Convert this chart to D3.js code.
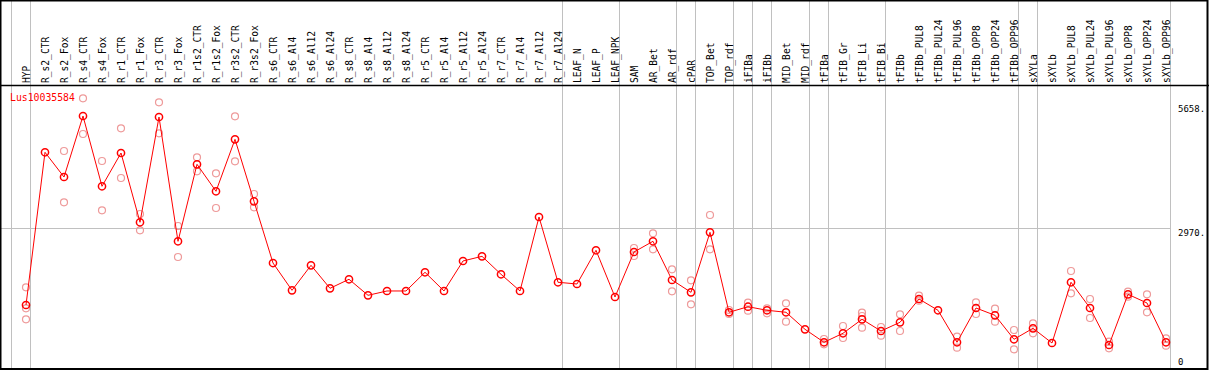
<!DOCTYPE html>
<html lang="en">
  <head>
    <meta charset="UTF-8">
    <title>Lus10035584</title>
    <script type="text/javascript" src="https://cdn.jsdelivr.net/npm/d3@7"></script>
    <style>
      body { margin: 0; background: #fff; }
      svg { display: block; }
    </style>
  </head>
  <body>
    <script type="text/javascript">
      let w = 1209;
      let h = 370;

      let geneName = 'Lus10035584';

      let samples = [
        'HYP', 'R_s2_CTR', 'R_s2_Fox', 'R_s4_CTR', 'R_s4_Fox', 'R_r1_CTR', 'R_r1_Fox',
        'R_r3_CTR', 'R_r3_Fox', 'R_r1s2_CTR', 'R_r1s2_Fox', 'R_r3s2_CTR', 'R_r3s2_Fox',
        'R_s6_CTR', 'R_s6_Al4', 'R_s6_Al12', 'R_s6_Al24', 'R_s8_CTR', 'R_s8_Al4',
        'R_s8_Al12', 'R_s8_Al24', 'R_r5_CTR', 'R_r5_Al4', 'R_r5_Al12', 'R_r5_Al24',
        'R_r7_CTR', 'R_r7_Al4', 'R_r7_Al12', 'R_r7_Al24', 'LEAF_N', 'LEAF_P', 'LEAF_NPK',
        'SAM', 'AR_Bet', 'AR_rdf', 'cPAR', 'TOP_Bet', 'TOP_rdf', 'iFIBa', 'iFIBb',
        'MID_Bet', 'MID_rdf', 'tFIBa', 'tFIB_Gr', 'tFIB_Li', 'tFIB_Bi', 'tFIBb',
        'tFIBb_PUL8', 'tFIBb_PUL24', 'tFIBb_PUL96', 'tFIBb_OPP8', 'tFIBb_OPP24', 'tFIBb_OPP96',
        'sXYLa', 'sXYLb', 'sXYLb_PUL8', 'sXYLb_PUL24', 'sXYLb_PUL96', 'sXYLb_OPP8',
        'sXYLb_OPP24', 'sXYLb_OPP96'
      ];

      // mean expression per sample
      let means = [
        1346, 4558, 4038, 5321, 3843, 4543, 3086, 5300, 2686, 4305, 3738, 4831, 3527,
        2229, 1655, 2181, 1697, 1887, 1550, 1641, 1641, 2034, 1641, 2272, 2370,
        1992, 1641, 3197, 1824, 1788, 2497, 1514,
        2461, 2686, 1872, 1613, 2875, 1193, 1310, 1235, 1193, 835,
        562, 751, 1045, 799, 982, 1472, 1235, 562, 1283, 1129, 625,
        856, 547, 1824, 1283, 505, 1571, 1388, 562
      ];

      // individual replicates (empty where none are shown)
      let replicates = [
        [1718, 1277, 1045], [], [4585, 3506], [5694, 4943], [4375, 3338], [5063, 4017],
        [3260, 2917], [5609, 4957], [3008, 2356], [4453, 4158], [4116, 3386], [5315, 4369],
        [3681, 3401],
        [], [], [], [], [], [], [], [], [], [], [], [], [], [], [], [], [], [], [],
        [2545, 2377], [2854, 2518], [2097, 1634], [1866, 1361], [3239, 2518], [1241, 1157],
        [1394, 1226], [1277, 1172], [1382, 995], [],
        [631, 520], [904, 652], [1184, 1115, 869], [883, 700], [1151, 799], [1542, 1437],
        [], [679, 448], [1403, 1157], [1268, 995], [820, 414],
        [961, 751], [], [2061, 1592], [1472, 1073], [574, 435], [1626, 1521],
        [1571, 1193], [646, 490]
      ];

      // samples that start a new tissue group (gray separators)
      let groupStarts = [
        'HYP', 'R_s2_CTR', 'LEAF_N', 'SAM', 'cPAR', 'TOP_Bet', 'iFIBa', 'iFIBb',
        'MID_Bet', 'tFIBa', 'tFIB_Gr', 'tFIBb', 'sXYLa', 'sXYLb'
      ];

      let yMax = 5658;
      let yTicks = [0, 2970, 5658];

      let headerH = 85;
      let xScale = d3.scalePoint()
                      .domain(samples)
                      .range([26, 1166]);
      let yScale = d3.scaleLinear()
                      .domain([0, yMax])
                      .range([369, 100]);
      let plotRight = xScale(samples[samples.length - 1]) + 4;

      let svg = d3.select('body')
                  .append('svg')
                  .attr('width', w)
                  .attr('height', h);

      // gray group separators
      svg.selectAll('line.sep')
          .data(groupStarts)
          .enter()
          .append('line')
          .attr('class', 'sep')
          .attr('x1', d => xScale(d) - 15 + 0.5)
          .attr('x2', d => xScale(d) - 15 + 0.5)
          .attr('y1', 0)
          .attr('y2', h)
          .attr('stroke', '#c0c0c0')
          .attr('stroke-width', 1);

      svg.append('line')
          .attr('x1', plotRight + 0.5)
          .attr('x2', plotRight + 0.5)
          .attr('y1', 0)
          .attr('y2', h)
          .attr('stroke', '#c0c0c0');

      // middle gridline
      svg.append('line')
          .attr('x1', 0)
          .attr('x2', plotRight)
          .attr('y1', Math.round(yScale(yTicks[1])) + 0.5)
          .attr('y2', Math.round(yScale(yTicks[1])) + 0.5)
          .attr('stroke', '#c0c0c0');

      // frame
      svg.append('rect')
          .attr('x', 0.5)
          .attr('y', 0.5)
          .attr('width', w - 2)
          .attr('height', h - 1.5)
          .attr('fill', 'none')
          .attr('stroke', '#000')
          .attr('stroke-width', 2);
      svg.append('line')
          .attr('x1', 0)
          .attr('x2', w)
          .attr('y1', headerH + 0.5)
          .attr('y2', headerH + 0.5)
          .attr('stroke', '#000')
          .attr('stroke-width', 1.5);

      // rotated sample labels
      svg.selectAll('text.sample')
          .data(samples)
          .enter()
          .append('text')
          .attr('class', 'sample')
          .attr('transform', d => `translate(${xScale(d) + 4},${headerH - 2}) rotate(-90)`)
          .attr('font-family', 'DejaVu Sans Mono, monospace')
          .attr('font-size', '9.6px')
          .attr('fill', '#000')
          .text(d => d);

      // y labels at the right
      let labelOffset = { 0: -4, 2970: 8, 5658: 12 };
      svg.selectAll('text.ytick')
          .data(yTicks)
          .enter()
          .append('text')
          .attr('class', 'ytick')
          .attr('x', plotRight + 8)
          .attr('y', d => yScale(d) + labelOffset[d])
          .attr('font-family', 'DejaVu Sans Mono, monospace')
          .attr('font-size', '9px')
          .attr('fill', '#000')
          .text(d => d === 0 ? '0' : d + '.');

      // gene name
      svg.append('text')
          .attr('x', 10)
          .attr('y', 101)
          .attr('font-family', 'DejaVu Sans Mono, monospace')
          .attr('font-size', '9.8px')
          .attr('fill', '#ff0000')
          .text(geneName);

      // replicate points
      let reps = [];
      replicates.forEach((r, i) => r.forEach(v => reps.push([samples[i], v])));
      svg.selectAll('circle.rep')
          .data(reps)
          .enter()
          .append('circle')
          .attr('class', 'rep')
          .attr('cx', d => xScale(d[0]))
          .attr('cy', d => yScale(d[1]))
          .attr('r', 3.5)
          .attr('fill', 'none')
          .attr('stroke', '#ee9a9a')
          .attr('stroke-width', 1.2);

      // mean line
      let line = d3.line()
                    .x((d, i) => xScale(samples[i]))
                    .y(d => yScale(d));
      svg.append('path')
          .datum(means)
          .attr('d', line)
          .attr('fill', 'none')
          .attr('stroke', '#ff0000')
          .attr('stroke-width', 1);

      svg.selectAll('circle.mean')
          .data(means)
          .enter()
          .append('circle')
          .attr('class', 'mean')
          .attr('cx', (d, i) => xScale(samples[i]))
          .attr('cy', d => yScale(d))
          .attr('r', 3.6)
          .attr('fill', 'none')
          .attr('stroke', '#ff0000')
          .attr('stroke-width', 1.5);
    </script>
  </body>
</html>
